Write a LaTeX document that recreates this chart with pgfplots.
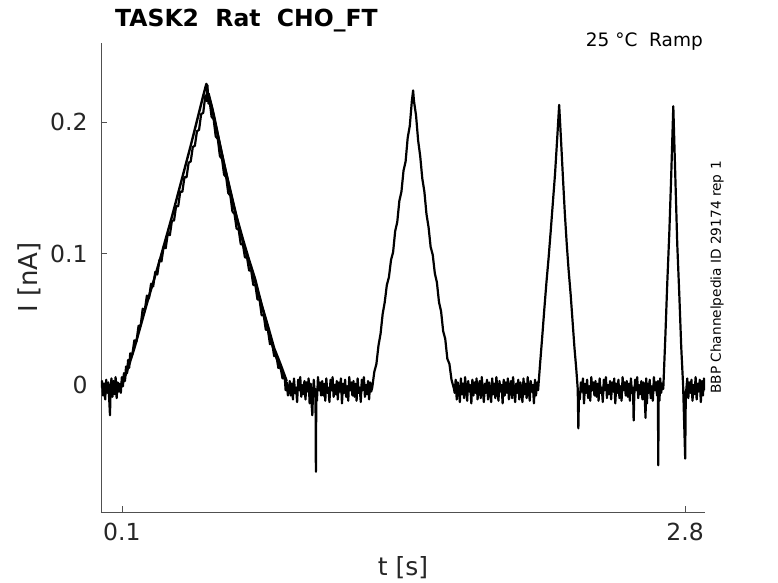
\documentclass[border=0pt]{standalone}
\usepackage{fontspec}
\setmainfont{DejaVu Sans}
\usepackage{pgfplots}
\pgfplotsset{compat=1.18}
\definecolor{axisgray}{RGB}{80,80,80}
\definecolor{labgray}{RGB}{38,38,38}
\begin{document}
\begin{tikzpicture}
\useasboundingbox (-101bp,-71bp) rectangle (677bp,512bp);
\begin{axis}[
  at={(0,0)}, anchor=south west,
  scale only axis, width=604bp, height=469bp,
  xmin=0, xmax=2.895, ymin=-0.0966, ymax=0.2601,
  axis x line=bottom, axis y line=left,
  axis line style={-, draw=axisgray, line width=0.7bp},
  xtick={0.1,2.8}, xticklabels={0.1,2.8},
  ytick={0,0.1,0.2}, yticklabels={0,0.1,0.2},
  tick align=inside, major tick length=6bp,
  tick style={draw=axisgray, line width=0.7bp},
  xticklabel style={font=\fontsize{23.5bp}{26bp}\selectfont, text=labgray, yshift=-8bp},
  yticklabel style={font=\fontsize{23.5bp}{26bp}\selectfont, text=labgray, xshift=-10bp},
  clip=true,
]
\addplot[black, line width=2.2bp, line join=round] table {
0.000 -0.002
0.005 0.003
0.010 -0.008
0.015 0.001
0.020 -0.011
0.025 0.004
0.030 -0.006
0.035 0.002
0.040 -0.013
0.043 -0.023
0.046 -0.004
0.050 0.005
0.055 -0.009
0.060 0.003
0.065 -0.007
0.070 0.006
0.075 -0.010
0.080 0.002
0.085 -0.005
0.090 0.001
0.095 -0.006
0.100 0.006
0.105 -0.001
0.110 0.009
0.115 0.003
0.120 0.014
0.125 0.009
0.130 0.019
0.135 0.013
0.140 0.024
0.150 0.023
0.160 0.034
0.170 0.033
0.180 0.045
0.190 0.045
0.200 0.058
0.210 0.057
0.220 0.068
0.230 0.066
0.240 0.077
0.250 0.075
0.260 0.086
0.270 0.084
0.280 0.095
0.290 0.094
0.300 0.105
0.310 0.104
0.320 0.115
0.330 0.114
0.340 0.125
0.350 0.125
0.360 0.136
0.370 0.136
0.380 0.147
0.390 0.147
0.400 0.158
0.410 0.158
0.420 0.169
0.430 0.170
0.440 0.181
0.450 0.182
0.460 0.193
0.470 0.194
0.480 0.206
0.490 0.207
0.500 0.220
0.505 0.216
0.510 0.228
0.515 0.214
0.520 0.217
0.530 0.204
0.540 0.202
0.550 0.189
0.560 0.187
0.570 0.174
0.580 0.172
0.590 0.160
0.600 0.158
0.610 0.146
0.620 0.144
0.630 0.132
0.640 0.130
0.650 0.119
0.660 0.118
0.670 0.107
0.680 0.107
0.690 0.097
0.700 0.097
0.710 0.087
0.720 0.087
0.730 0.076
0.740 0.076
0.750 0.065
0.760 0.065
0.770 0.053
0.780 0.053
0.790 0.042
0.800 0.042
0.810 0.031
0.820 0.032
0.830 0.022
0.840 0.023
0.850 0.013
0.860 0.014
0.870 0.005
0.880 0.007
0.885 -0.004
0.890 0.002
0.896 -0.008
0.900 -0.003
0.905 0.003
0.910 -0.008
0.915 0.001
0.920 -0.011
0.925 0.005
0.930 -0.006
0.935 -0.002
0.940 -0.013
0.945 0.004
0.950 -0.004
0.955 0.006
0.960 -0.009
0.965 0.000
0.970 -0.007
0.975 0.003
0.980 -0.011
0.985 0.002
0.990 -0.005
0.995 0.005
1.000 -0.014
1.005 0.001
1.010 -0.016
1.013 -0.023
1.016 -0.006
1.020 0.004
1.025 -0.009
1.028 -0.003
1.030 -0.066
1.032 -0.004
1.035 -0.012
1.040 0.006
1.045 -0.004
1.050 0.002
1.055 -0.008
1.060 0.003
1.065 -0.008
1.070 0.001
1.075 -0.012
1.080 0.005
1.085 -0.006
1.090 -0.002
1.095 -0.013
1.100 0.004
1.105 -0.004
1.110 0.006
1.115 -0.009
1.120 0.000
1.125 -0.007
1.130 0.003
1.135 -0.011
1.140 0.002
1.145 -0.005
1.150 0.005
1.155 -0.014
1.160 0.001
1.165 -0.006
1.170 0.004
1.175 -0.009
1.180 -0.001
1.185 -0.012
1.190 0.006
1.195 -0.004
1.200 0.002
1.205 -0.008
1.210 0.003
1.215 -0.009
1.220 0.001
1.225 -0.012
1.230 0.005
1.235 -0.006
1.240 -0.002
1.245 -0.013
1.250 0.004
1.255 -0.004
1.260 0.006
1.265 -0.009
1.270 0.000
1.275 -0.007
1.280 0.003
1.285 -0.011
1.290 0.002
1.295 -0.005
1.300 -0.002
1.310 0.010
1.320 0.016
1.330 0.030
1.340 0.039
1.350 0.054
1.360 0.063
1.370 0.076
1.380 0.082
1.390 0.095
1.400 0.101
1.410 0.117
1.420 0.124
1.430 0.140
1.440 0.147
1.450 0.163
1.460 0.170
1.470 0.188
1.480 0.197
1.490 0.216
1.496 0.224
1.500 0.216
1.510 0.205
1.520 0.186
1.530 0.174
1.540 0.157
1.550 0.147
1.560 0.130
1.570 0.120
1.580 0.105
1.590 0.099
1.600 0.085
1.610 0.078
1.620 0.063
1.630 0.056
1.640 0.041
1.650 0.035
1.660 0.020
1.670 0.016
1.680 0.004
1.692 -0.003
1.695 -0.006
1.700 0.004
1.705 -0.011
1.710 0.002
1.715 -0.004
1.720 -0.013
1.725 0.005
1.730 -0.007
1.735 0.001
1.740 -0.010
1.745 0.006
1.750 -0.003
1.755 -0.012
1.760 0.003
1.765 -0.005
1.770 0.000
1.775 -0.014
1.780 0.004
1.785 -0.008
1.790 0.002
1.795 -0.006
1.800 0.005
1.805 -0.011
1.810 -0.001
1.815 0.003
1.820 -0.010
1.825 0.006
1.830 -0.004
1.835 -0.013
1.840 0.001
1.845 -0.006
1.850 0.004
1.855 -0.011
1.860 0.002
1.865 -0.004
1.870 -0.013
1.875 0.005
1.880 -0.007
1.885 0.001
1.890 -0.010
1.895 0.006
1.900 -0.003
1.905 -0.012
1.910 0.003
1.915 -0.005
1.920 0.000
1.925 -0.014
1.930 0.004
1.935 -0.008
1.940 0.002
1.945 -0.006
1.950 0.005
1.955 -0.011
1.960 -0.001
1.965 0.003
1.970 -0.010
1.975 0.006
1.980 -0.004
1.985 -0.013
1.990 0.001
1.995 -0.006
2.000 0.004
2.005 -0.011
2.010 0.002
2.015 -0.004
2.020 -0.013
2.025 0.005
2.030 -0.007
2.035 0.001
2.040 -0.010
2.045 0.006
2.050 -0.003
2.055 -0.012
2.060 0.003
2.065 -0.005
2.070 0.000
2.075 -0.014
2.080 0.004
2.085 -0.008
2.090 0.002
2.095 -0.004
2.105 0.017
2.115 0.037
2.125 0.058
2.135 0.078
2.145 0.096
2.155 0.116
2.165 0.137
2.176 0.160
2.186 0.186
2.196 0.213
2.205 0.186
2.214 0.158
2.223 0.131
2.232 0.108
2.241 0.088
2.251 0.069
2.260 0.049
2.269 0.029
2.278 0.012
2.285 -0.003
2.288 -0.033
2.291 -0.006
2.295 -0.011
2.300 0.002
2.305 -0.005
2.310 0.005
2.315 -0.014
2.320 0.001
2.325 -0.006
2.330 0.004
2.335 -0.010
2.340 -0.001
2.345 -0.012
2.350 0.006
2.355 -0.004
2.360 0.002
2.365 -0.008
2.370 0.003
2.375 -0.009
2.380 0.001
2.385 -0.012
2.390 0.005
2.395 -0.006
2.400 -0.002
2.405 -0.013
2.410 0.004
2.415 -0.004
2.420 0.006
2.425 -0.010
2.430 0.000
2.435 -0.007
2.440 0.003
2.445 -0.011
2.450 0.002
2.455 -0.005
2.460 0.005
2.465 -0.014
2.470 0.001
2.475 -0.006
2.480 0.004
2.485 -0.010
2.490 -0.001
2.495 -0.012
2.500 0.006
2.505 -0.004
2.510 0.002
2.515 -0.008
2.520 0.003
2.525 -0.009
2.530 0.001
2.535 -0.012
2.540 0.005
2.545 -0.006
2.550 -0.002
2.553 -0.027
2.556 -0.008
2.560 0.004
2.565 -0.004
2.570 0.006
2.575 -0.010
2.580 0.000
2.585 -0.007
2.590 0.003
2.595 -0.011
2.600 0.002
2.605 -0.005
2.610 -0.025
2.613 0.005
2.617 -0.014
2.620 0.001
2.625 -0.006
2.630 0.004
2.635 -0.010
2.640 -0.001
2.645 -0.012
2.650 0.006
2.655 -0.004
2.660 0.002
2.665 -0.008
2.669 0.003
2.671 -0.061
2.673 -0.002
2.677 -0.012
2.680 0.005
2.685 -0.006
2.690 0.001
2.695 -0.003
2.705 0.037
2.714 0.077
2.724 0.116
2.733 0.159
2.743 0.212
2.753 0.157
2.762 0.107
2.772 0.068
2.781 0.029
2.790 0.000
2.800 -0.056
2.803 -0.005
2.805 -0.004
2.810 0.005
2.815 -0.010
2.820 0.002
2.825 -0.006
2.830 0.004
2.835 -0.012
2.840 0.000
2.845 -0.007
2.850 0.006
2.855 -0.011
2.860 0.001
2.865 -0.005
2.870 0.004
2.875 -0.013
2.880 0.003
2.885 -0.008
2.890 0.005
2.895 -0.004
};
\addplot[black, line width=2.4bp, line join=round] table {
0.515 0.222
0.540 0.206
0.570 0.183
0.600 0.161
0.630 0.140
0.660 0.121
0.690 0.103
0.720 0.089
0.750 0.072
0.780 0.055
0.810 0.036
0.840 0.021
0.870 0.009
0.900 -0.003
};
\addplot[black, line width=2.4bp, line join=round] table {
0.100 0.000
0.130 0.013
0.160 0.028
0.190 0.045
0.220 0.062
0.250 0.078
0.280 0.094
0.310 0.111
0.340 0.128
0.370 0.146
0.400 0.164
0.430 0.182
0.460 0.201
0.490 0.220
0.505 0.229
0.512 0.222
0.530 0.212
0.560 0.190
0.590 0.168
0.620 0.148
0.650 0.128
0.680 0.111
0.710 0.095
0.740 0.080
0.770 0.061
0.800 0.045
0.830 0.028
0.860 0.016
0.890 0.003
};
\end{axis}
\node[anchor=base west, inner sep=0pt, font=\fontsize{23.5bp}{27bp}\selectfont\bfseries] at (14bp,485bp) {TASK2\ \ Rat\ \ CHO\_FT};
\node[anchor=base east, inner sep=0pt, font=\fontsize{18.5bp}{22bp}\selectfont] at (602bp,465bp) {25 °C\ \ Ramp};
\node[rotate=90, anchor=center, inner sep=0pt, font=\fontsize{13.7bp}{15bp}\selectfont] at (616bp,234.5bp) {BBP Channelpedia ID 29174 rep 1};
\node[anchor=center, inner sep=0pt, text=labgray, font=\fontsize{25bp}{29bp}\selectfont] at (302bp,-56bp) {t [s]};
\node[rotate=90, anchor=center, inner sep=0pt, text=labgray, font=\fontsize{26bp}{29bp}\selectfont] at (-72bp,234.5bp) {I [nA]};
\end{tikzpicture}
\end{document}
